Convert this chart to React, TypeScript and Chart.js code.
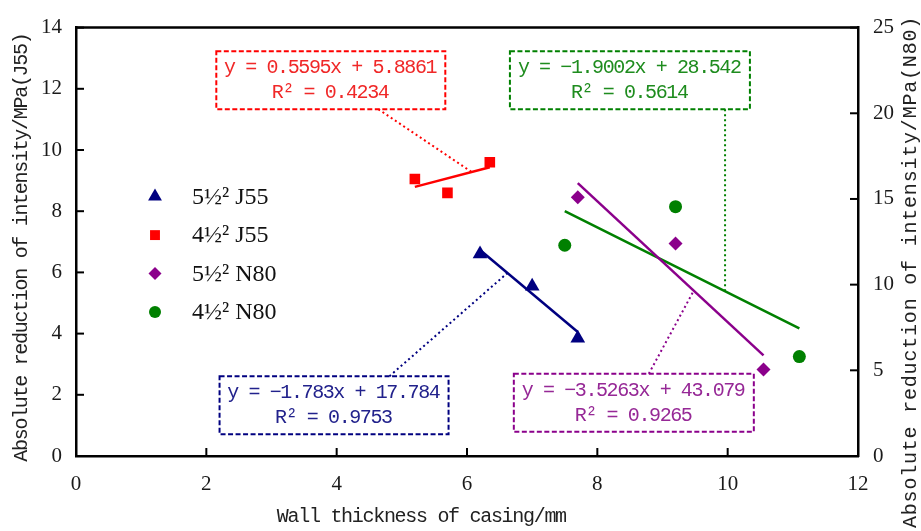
import React, { useEffect, useRef } from 'react';
import { Chart, registerables } from 'chart.js';
Chart.register(...registerables);

// ---- data (wall thickness in mm, reduction in MPa) ----
const j55Big_x = [6.2, 7.0, 7.7];
const j55Big_y = [6.6, 5.55, 3.85];
const j55Small_x = [5.2, 5.7, 6.35];
const j55Small_y = [9.05, 8.6, 9.6];
const n80Big_x = [7.7, 9.2, 10.55];
const n80Big_y = [15.1, 12.4, 5.05];
const n80Small_x = [7.5, 9.2, 11.1];
const n80Small_y = [12.3, 14.55, 5.8];

const seriesLabels = ['5½² J55', '4½² J55', '5½² N80', '4½² N80'];
const fitSlope = [-1.783, 0.5595, -3.5263, -1.9002];
const fitIntercept = [17.784, 5.8861, 43.079, 28.542];
const fitSlopeText = ['−1.783', '0.5595', '−3.5263', '−1.9002'];
const fitInterceptText = ['17.784', '5.8861', '43.079', '28.542'];
const fitR2Text = ['0.9753', '0.4234', '0.9265', '0.5614'];

const xTickValues = [0, 2, 4, 6, 8, 10, 12];
const yLeftTickValues = [0, 2, 4, 6, 8, 10, 12, 14];
const yRightTickValues = [0, 5, 10, 15, 20, 25];

const xTitle = 'Wall thickness of casing/mm';
const yLeftTitle = 'Absolute reduction of intensity/MPa(J55)';
const yRightTitle = 'Absolute reduction of intensity/MPa(N80)';

// ---- styles / layout ----
const COLORS = ['#000080', '#ff0000', '#8b008b', '#008000'];
const TEXT_COLORS = ['#22228c', '#f02828', '#962896', '#1e8c1e'];
const POINT_STYLES = ['triangle', 'rect', 'rectRot', 'circle'];
const POINT_RADII = [8.5, 7.5, 7, 6.5];
const AXIS_IDS = ['y', 'y', 'y2', 'y2'];

// annotation layout in data units (x, left-axis y)
const annotationLayout = {
  centerX: [3.96, 3.91, 8.56, 8.5],
  centerY: [1.66, 12.28, 1.74, 12.28],
  boxW: [229, 229, 240, 240],
  boxH: 58,
  anchorBoxX: [4.81, 4.64, 8.79, 9.96],
  anchorLineX: [6.62, 6.07, 9.48, 9.96],
  boxSide: ['top', 'bottom', 'top', 'bottom'],
};

const MONO = '"Liberation Mono", "DejaVu Sans Mono", monospace';
const SERIF = '"Liberation Serif", "DejaVu Serif", serif';

function drawMarker(ctx: CanvasRenderingContext2D, style: string, x: number, y: number, r: number) {
  ctx.beginPath();
  if (style === 'triangle') {
    for (let i = 0; i < 3; i++) {
      const a = (i * 2 * Math.PI) / 3;
      const px = x + Math.sin(a) * r;
      const py = y - Math.cos(a) * r;
      if (i === 0) ctx.moveTo(px, py); else ctx.lineTo(px, py);
    }
    ctx.closePath();
  } else if (style === 'rect') {
    const s = r * Math.SQRT1_2;
    ctx.rect(x - s, y - s, 2 * s, 2 * s);
  } else if (style === 'rectRot') {
    ctx.moveTo(x, y - r); ctx.lineTo(x + r, y); ctx.lineTo(x, y + r); ctx.lineTo(x - r, y); ctx.closePath();
  } else {
    ctx.arc(x, y, r, 0, Math.PI * 2);
  }
  ctx.fill();
}

function monoText(ctx: CanvasRenderingContext2D, text: string, x: number, y: number, align: 'center' | 'left', spacing: number) {
  (ctx as any).letterSpacing = `${spacing}px`;
  ctx.textAlign = 'left';
  const w = ctx.measureText(text).width - spacing;
  const sx = align === 'center' ? x - w / 2 : x;
  ctx.fillText(text, sx, y);
  (ctx as any).letterSpacing = '0px';
}

const overlayPlugin = {
  id: 'overlay',
  afterDatasetsDraw(chart: any) {
    const { ctx, scales } = chart;
    const xs = scales.x;
    const yl = scales.y;
    ctx.save();
    for (let i = 0; i < 4; i++) {
      const ys = scales[AXIS_IDS[i]];
      const cx = xs.getPixelForValue(annotationLayout.centerX[i]);
      const cy = yl.getPixelForValue(annotationLayout.centerY[i]);
      const w = annotationLayout.boxW[i];
      const h = annotationLayout.boxH;
      // connector
      const bx = xs.getPixelForValue(annotationLayout.anchorBoxX[i]);
      const by = annotationLayout.boxSide[i] === 'top' ? cy - h / 2 : cy + h / 2;
      const lxv = annotationLayout.anchorLineX[i];
      const lx = xs.getPixelForValue(lxv);
      const ly = ys.getPixelForValue(fitSlope[i] * lxv + fitIntercept[i]);
      ctx.strokeStyle = COLORS[i];
      ctx.lineWidth = 2;
      ctx.setLineDash([2, 3]);
      ctx.beginPath(); ctx.moveTo(bx, by); ctx.lineTo(lx, ly); ctx.stroke();
      // box
      ctx.setLineDash([5, 2.5]);
      ctx.strokeRect(cx - w / 2, cy - h / 2, w, h);
      ctx.setLineDash([]);
      // text
      ctx.fillStyle = TEXT_COLORS[i];
      ctx.font = `20px ${MONO}`;
      ctx.textBaseline = 'middle';
      monoText(ctx, `y = ${fitSlopeText[i]}x + ${fitInterceptText[i]}`, cx, cy - 12.5, 'center', -1.4);
      monoText(ctx, `R² = ${fitR2Text[i]}`, cx, cy + 12.5, 'center', -1.4);
    }
    ctx.restore();
  },
  afterDraw(chart: any) {
    const { ctx, chartArea: a, scales } = chart;
    ctx.save();
    ctx.strokeStyle = '#000';
    ctx.lineWidth = 2.5;
    ctx.beginPath(); ctx.moveTo(a.left - 1, a.top); ctx.lineTo(a.right + 1, a.top); ctx.stroke();
    ctx.lineWidth = 2;
    const T = 8;
    scales.x.ticks.forEach((t: any) => {
      const p = scales.x.getPixelForValue(t.value);
      ctx.beginPath(); ctx.moveTo(p, a.bottom); ctx.lineTo(p, a.bottom - T); ctx.stroke();
    });
    scales.y.ticks.forEach((t: any) => {
      const p = scales.y.getPixelForValue(t.value);
      ctx.beginPath(); ctx.moveTo(a.left, p); ctx.lineTo(a.left + T, p); ctx.stroke();
    });
    scales.y2.ticks.forEach((t: any) => {
      const p = scales.y2.getPixelForValue(t.value);
      ctx.beginPath(); ctx.moveTo(a.right, p); ctx.lineTo(a.right - T, p); ctx.stroke();
    });

    // legend
    for (let i = 0; i < 4; i++) {
      const ly = a.top + 169 + i * 38.5;
      ctx.fillStyle = COLORS[i];
      drawMarker(ctx, POINT_STYLES[i], a.left + 79, ly, POINT_RADII[i] - 0.5);
      ctx.fillStyle = '#111';
      ctx.font = `24px ${SERIF}`;
      ctx.textAlign = 'left';
      ctx.textBaseline = 'middle';
      ctx.fillText(seriesLabels[i], a.left + 116, ly + 1);
    }

    // axis titles
    ctx.fillStyle = '#222';
    ctx.font = `20px ${MONO}`;
    ctx.textBaseline = 'middle';
    monoText(ctx, xTitle, 422, 517, 'center', -1.3);
    ctx.save();
    ctx.translate(22, 247);
    ctx.rotate(-Math.PI / 2);
    monoText(ctx, yLeftTitle, 0, 0, 'center', -1.3);
    ctx.restore();
    ctx.save();
    ctx.translate(911, 528);
    ctx.rotate(-Math.PI / 2);
    monoText(ctx, yRightTitle, 0, 0, 'left', 0.8);
    ctx.restore();
    ctx.restore();
  },
};

function makeSeries(xv: number[], yv: number[]) {
  return xv.map((x, i) => ({ x, y: yv[i] }));
}

export default function App() {
  const ref = useRef<HTMLCanvasElement | null>(null);
  useEffect(() => {
    if (!ref.current) return;
    const pts = [
      makeSeries(j55Big_x, j55Big_y),
      makeSeries(j55Small_x, j55Small_y),
      makeSeries(n80Big_x, n80Big_y),
      makeSeries(n80Small_x, n80Small_y),
    ];
    const xsArr = [j55Big_x, j55Small_x, n80Big_x, n80Small_x];
    const datasets: any[] = [];
    for (let i = 0; i < 4; i++) {
      const xmin = Math.min(...xsArr[i]);
      const xmax = Math.max(...xsArr[i]);
      datasets.push({
        label: seriesLabels[i] + ' fit',
        data: [
          { x: xmin, y: fitSlope[i] * xmin + fitIntercept[i] },
          { x: xmax, y: fitSlope[i] * xmax + fitIntercept[i] },
        ],
        showLine: true,
        borderColor: COLORS[i],
        borderWidth: 2.5,
        pointRadius: 0,
        yAxisID: AXIS_IDS[i],
        order: 2,
      });
    }
    for (let i = 0; i < 4; i++) {
      datasets.push({
        label: seriesLabels[i],
        data: pts[i],
        showLine: false,
        pointStyle: POINT_STYLES[i],
        pointRadius: POINT_RADII[i],
        pointBackgroundColor: COLORS[i],
        pointBorderColor: COLORS[i],
        pointBorderWidth: 0,
        yAxisID: AXIS_IDS[i],
        order: 0,
      });
    }
    const tickFont = { family: SERIF, size: 21 };
    const chart = new Chart(ref.current, {
      type: 'scatter',
      data: { datasets },
      plugins: [overlayPlugin],
      options: {
        animation: false,
        responsive: false,
        maintainAspectRatio: false,
        layout: { padding: { top: 17, left: 0, right: 0, bottom: 0 } },
        plugins: { legend: { display: false }, tooltip: { enabled: false } },
        scales: {
          x: {
            type: 'linear',
            min: 0,
            max: 12,
            grid: { display: false, drawTicks: false },
            border: { display: true, color: '#000', width: 2.5 },
            ticks: { font: tickFont, color: '#1a1a1a', padding: 16 },
            afterBuildTicks: (s: any) => { s.ticks = xTickValues.map((v) => ({ value: v })); },
            afterFit: (s: any) => { s.height = 75; },
          },
          y: {
            type: 'linear',
            position: 'left',
            min: 0,
            max: 14,
            grid: { display: false, drawTicks: false },
            border: { display: true, color: '#000', width: 2.5 },
            ticks: { font: tickFont, color: '#1a1a1a', padding: 14 },
            afterBuildTicks: (s: any) => { s.ticks = yLeftTickValues.map((v) => ({ value: v })); },
            afterFit: (s: any) => { s.width = 76; },
          },
          y2: {
            type: 'linear',
            position: 'right',
            min: 0,
            max: 25,
            grid: { display: false, drawTicks: false },
            border: { display: true, color: '#000', width: 2.5 },
            ticks: { font: tickFont, color: '#1a1a1a', padding: 15 },
            afterBuildTicks: (s: any) => { s.ticks = yRightTickValues.map((v) => ({ value: v })); },
            afterFit: (s: any) => { s.width = 63; },
          },
        },
      } as any,
    });
    return () => chart.destroy();
  }, []);
  return (
    <canvas
      ref={ref}
      width={921}
      height={531}
      style={{ position: 'absolute', left: 0, top: 0, width: 921, height: 531, background: '#fff' }}
    />
  );
}
